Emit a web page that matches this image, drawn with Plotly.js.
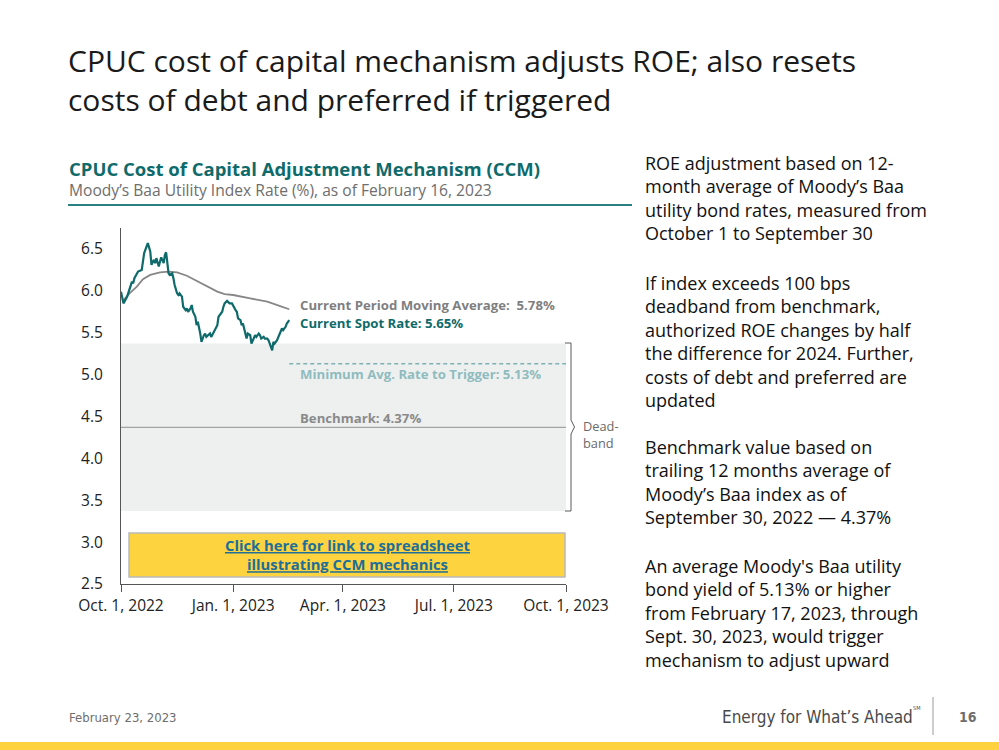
<!DOCTYPE html>
<html>
<head>
<meta charset="utf-8">
<script src="https://cdn.plot.ly/plotly-3.0.1.min.js"></script>
<style>
  html, body { margin: 0; padding: 0; background: #ffffff; }
  #chart { width: 999px; height: 750px; }
</style>
</head>
<body>
<div id="chart"></div>
<script>
// ---------------- DATA ----------------
const spotDates = [
  '2022-10-01','2022-10-03','2022-10-06','2022-10-08','2022-10-10','2022-10-11','2022-10-12','2022-10-15',
  '2022-10-18','2022-10-20','2022-10-22','2022-10-23','2022-10-25','2022-10-26','2022-10-28','2022-10-29',
  '2022-10-30','2022-11-01','2022-11-02','2022-11-03','2022-11-05','2022-11-06','2022-11-07','2022-11-09',
  '2022-11-10','2022-11-12','2022-11-13','2022-11-14','2022-11-16','2022-11-17','2022-11-18','2022-11-20',
  '2022-11-21','2022-11-23','2022-11-24','2022-11-25','2022-11-27','2022-11-28','2022-11-29','2022-12-01',
  '2022-12-02','2022-12-03','2022-12-05','2022-12-06','2022-12-08','2022-12-09','2022-12-10','2022-12-12',
  '2022-12-13','2022-12-14','2022-12-16','2022-12-17','2022-12-19','2022-12-20','2022-12-21','2022-12-23',
  '2022-12-24','2022-12-25','2022-12-27','2022-12-28','2022-12-29','2022-12-31','2023-01-01','2023-01-03',
  '2023-01-04','2023-01-05','2023-01-07','2023-01-08','2023-01-09','2023-01-11','2023-01-12','2023-01-13',
  '2023-01-15','2023-01-16','2023-01-18','2023-01-19','2023-01-20','2023-01-22','2023-01-23','2023-01-24',
  '2023-01-26','2023-01-27','2023-01-29','2023-01-30','2023-01-31','2023-02-02','2023-02-03','2023-02-04',
  '2023-02-06','2023-02-07','2023-02-08','2023-02-10','2023-02-11','2023-02-13','2023-02-14','2023-02-16'
];
const spotRate = [
  5.99,5.85,5.93,6.03,6.11,6.09,6.15,6.23,
  6.25,6.45,6.55,6.57,6.47,6.31,6.37,6.33,
  6.39,6.29,6.35,6.40,6.33,6.43,6.46,6.21,
  6.19,6.21,6.15,6.07,5.97,5.95,5.97,5.93,
  5.81,5.77,5.79,5.75,5.79,5.83,5.75,5.69,
  5.59,5.63,5.49,5.39,5.47,5.49,5.45,5.47,
  5.49,5.45,5.51,5.55,5.59,5.69,5.71,5.75,
  5.81,5.85,5.88,5.87,5.85,5.85,5.82,5.77,
  5.75,5.67,5.65,5.59,5.61,5.47,5.43,5.49,
  5.47,5.37,5.43,5.47,5.45,5.49,5.47,5.43,
  5.45,5.43,5.43,5.41,5.37,5.29,5.39,5.37,
  5.41,5.45,5.47,5.55,5.53,5.57,5.61,5.65
];
const maDates = [
  '2022-10-03','2022-10-08','2022-10-14','2022-10-19','2022-10-25','2022-11-02','2022-11-09','2022-11-16',
  '2022-11-24','2022-12-02','2022-12-10','2022-12-19','2022-12-25','2023-01-01','2023-01-15','2023-01-29',
  '2023-02-08','2023-02-16'
];
const maRate = [
  5.89,5.97,6.05,6.14,6.19,6.22,6.23,6.22,
  6.18,6.12,6.06,5.99,5.96,5.95,5.91,5.87,
  5.82,5.78
];
const benchmark = 4.37;
const deadband = 1.00;
const triggerRate = 5.13;
const currentMA = 5.78;
const currentSpot = 5.65;
const xTickDates = ['2022-10-01','2023-01-01','2023-04-01','2023-07-01','2023-10-01'];
const xTickLabels = ['Oct. 1, 2022','Jan. 1, 2023','Apr. 1, 2023','Jul. 1, 2023','Oct. 1, 2023'];
const yTickVals = [2.5,3.0,3.5,4.0,4.5,5.0,5.5,6.0,6.5];

const slideTitle = ['CPUC cost of capital mechanism adjusts ROE; also resets',
                    'costs of debt and preferred if triggered'];
const chartTitle = 'CPUC Cost of Capital Adjustment Mechanism (CCM)';
const chartSubtitle = 'Moody’s Baa Utility Index Rate (%), as of February 16, 2023';
const sideParagraphs = [
  ['ROE adjustment based on 12-','month average of Moody’s Baa','utility bond rates, measured from','October 1 to September 30'],
  ['If index exceeds 100 bps','deadband from benchmark,','authorized ROE changes by half','the difference for 2024. Further,','costs of debt and preferred are','updated'],
  ['Benchmark value based on','trailing 12 months average of','Moody’s Baa index as of','September 30, 2022 — 4.37%'],
  ['An average Moody\'s Baa utility','bond yield of 5.13% or higher','from February 17, 2023, through','Sept. 30, 2023, would trigger','mechanism to adjust upward']
];

// ---------------- LAYOUT HELPERS ----------------
const W = 999, H = 750;
const L = 121, R = 566, T = 228, B = 584;
const px = x => (x - L) / (R - L);
const py = y => (B - y) / (B - T);
const FONT = '"Open Sans", "Noto Sans", sans-serif';
const NARROW = '"Liberation Sans Narrow", "DejaVu Sans Condensed", sans-serif';
const TEAL = '#0f6b6b';

const traces = [
  { x: maDates, y: maRate, type: 'scatter', mode: 'lines',
    line: { color: '#878787', width: 1.8 }, hoverinfo: 'skip' },
  { x: spotDates, y: spotRate, type: 'scatter', mode: 'lines',
    line: { color: TEAL, width: 2.2 }, hoverinfo: 'skip' }
];

const annotations = [];
function txt(x, y, text, opts) {
  annotations.push(Object.assign({
    xref: 'paper', yref: 'paper', x: px(x), y: py(y), text: text,
    showarrow: false, xanchor: 'left', yanchor: 'middle', align: 'left',
    font: { family: FONT, size: 14, color: '#222' }
  }, opts || {}));
}

// Slide title (one block, two lines)
txt(66, 80, slideTitle.join('<br>'), { font: { family: FONT, size: 30, color: '#1a1a1a' } });
// chart title/subtitle
txt(67, 168, '<b>' + chartTitle + '</b>', { font: { family: FONT, size: 18.5, color: TEAL } });
txt(67, 190, chartSubtitle, { font: { family: FONT, size: 15.6, color: '#6e6e6e' } });

// side paragraphs
const paraStarts = [163, 283, 447, 566];
const lineGap = 23.4;
sideParagraphs.forEach((p, i) => {
  p.forEach((line, j) => {
    txt(643, paraStarts[i] + j * lineGap, line, { font: { family: FONT, size: 18, color: '#111' } });
  });
});

// chart annotations
txt(298, 305, '<b>Current Period Moving Average:&nbsp; ' + currentMA.toFixed(2) + '%</b>',
    { font: { family: FONT, size: 13.2, color: '#7f7f7f' } });
txt(298, 323, '<b>Current Spot Rate: ' + currentSpot.toFixed(2) + '%</b>',
    { font: { family: FONT, size: 13.2, color: TEAL } });
txt(298, 374, '<b>Minimum Avg. Rate to Trigger: ' + triggerRate.toFixed(2) + '%</b>',
    { font: { family: FONT, size: 13.2, color: '#8fbcbe' } });
txt(298, 418, '<b>Benchmark: ' + benchmark.toFixed(2) + '%</b>',
    { font: { family: FONT, size: 13.2, color: '#8a8a8a' } });
txt(581, 434, 'Dead-<br>band', { font: { family: FONT, size: 12.8, color: '#6a6a6a' } });

// link box text
annotations.push({
  xref: 'paper', yref: 'paper', x: px(347), y: py(554),
  text: '<b><u>Click here for link to spreadsheet</u></b><br><b><u>illustrating CCM mechanics</u></b>',
  showarrow: false, xanchor: 'center', yanchor: 'middle', align: 'center',
  font: { family: FONT, size: 14.8, color: '#1d6e98' }
});

// footer
txt(67, 717, 'February 23, 2023', { font: { family: NARROW, size: 13, color: '#6e6e6e' } });
txt(720, 717, 'Energy for What’s Ahead', { font: { family: NARROW, size: 17, color: '#4a4a4a' } });
txt(911, 708, 'SM', { font: { family: NARROW, size: 5.5, color: '#4a4a4a' } });
txt(957, 717, '<b>16</b>', { font: { family: NARROW, size: 14, color: '#6e6e6e' } });

const shapes = [
  // deadband shading
  { type: 'rect', xref: 'paper', yref: 'y', x0: 0, x1: 1,
    y0: benchmark - deadband, y1: benchmark + deadband,
    fillcolor: '#eef0f0', line: { width: 0 }, layer: 'below' },
  // benchmark line
  { type: 'line', xref: 'paper', yref: 'y', x0: 0, x1: 1, y0: benchmark, y1: benchmark,
    line: { color: '#a3a3a3', width: 1.2 }, layer: 'below' },
  // trigger dashed line
  { type: 'line', xref: 'x', yref: 'y', x0: '2023-02-16', x1: '2023-10-01', y0: triggerRate, y1: triggerRate,
    line: { color: '#7fb1b4', width: 1.5, dash: '4px,3px' } },
  // link box
  { type: 'rect', xref: 'paper', yref: 'paper', x0: px(129), x1: px(565), y0: py(577), y1: py(533),
    fillcolor: '#fed340', line: { color: '#b9b9b9', width: 1.5 } },
  // bracket
  { type: 'path', xref: 'paper', yref: 'paper',
    path: 'M ' + px(565) + ' ' + py(343) + ' L ' + px(571) + ' ' + py(343) +
          ' L ' + px(571) + ' ' + py(420) + ' L ' + px(574.5) + ' ' + py(427) +
          ' L ' + px(571) + ' ' + py(434) + ' L ' + px(571) + ' ' + py(511) +
          ' L ' + px(565) + ' ' + py(511),
    line: { color: '#5a5a5a', width: 1 } },
  // chart header rule
  { type: 'line', xref: 'paper', yref: 'paper', x0: px(68), x1: px(632), y0: py(205), y1: py(205),
    line: { color: '#2b8081', width: 2 } },
  // footer separator
  { type: 'line', xref: 'paper', yref: 'paper', x0: px(933), x1: px(933), y0: py(697), y1: py(735),
    line: { color: '#9a9a9a', width: 1 } },
  // bottom yellow band
  { type: 'rect', xref: 'paper', yref: 'paper', x0: px(-5), x1: px(1005), y0: py(742), y1: py(755),
    fillcolor: '#fdd23e', line: { width: 0 } }
];

const layout = {
  width: W, height: H,
  margin: { l: L, r: W - R, t: T, b: H - B, pad: 0 },
  paper_bgcolor: '#ffffff', plot_bgcolor: 'rgba(0,0,0,0)',
  showlegend: false,
  font: { family: FONT, color: '#222' },
  xaxis: {
    type: 'date', range: ['2022-10-01', '2023-10-01'],
    tickmode: 'array', tickvals: xTickDates, ticktext: xTickLabels,
    showgrid: false, zeroline: false, showline: true, linecolor: '#555', linewidth: 1,
    ticks: 'outside', ticklen: 7, tickcolor: '#555', tickwidth: 1,
    tickfont: { family: FONT, size: 15.5, color: '#222' }, fixedrange: true
  },
  yaxis: {
    range: [2.5, 6.75], tickmode: 'array', tickvals: yTickVals, tickformat: '.1f',
    showgrid: false, zeroline: false, showline: true, linecolor: '#555', linewidth: 1,
    ticks: 'outside', ticklen: 14, tickcolor: 'rgba(0,0,0,0)',
    tickfont: { family: FONT, size: 15.5, color: '#222' }, fixedrange: true
  },
  shapes: shapes,
  annotations: annotations
};

Plotly.newPlot('chart', traces, layout, { staticPlot: true, displayModeBar: false });
</script>
</body>
</html>
